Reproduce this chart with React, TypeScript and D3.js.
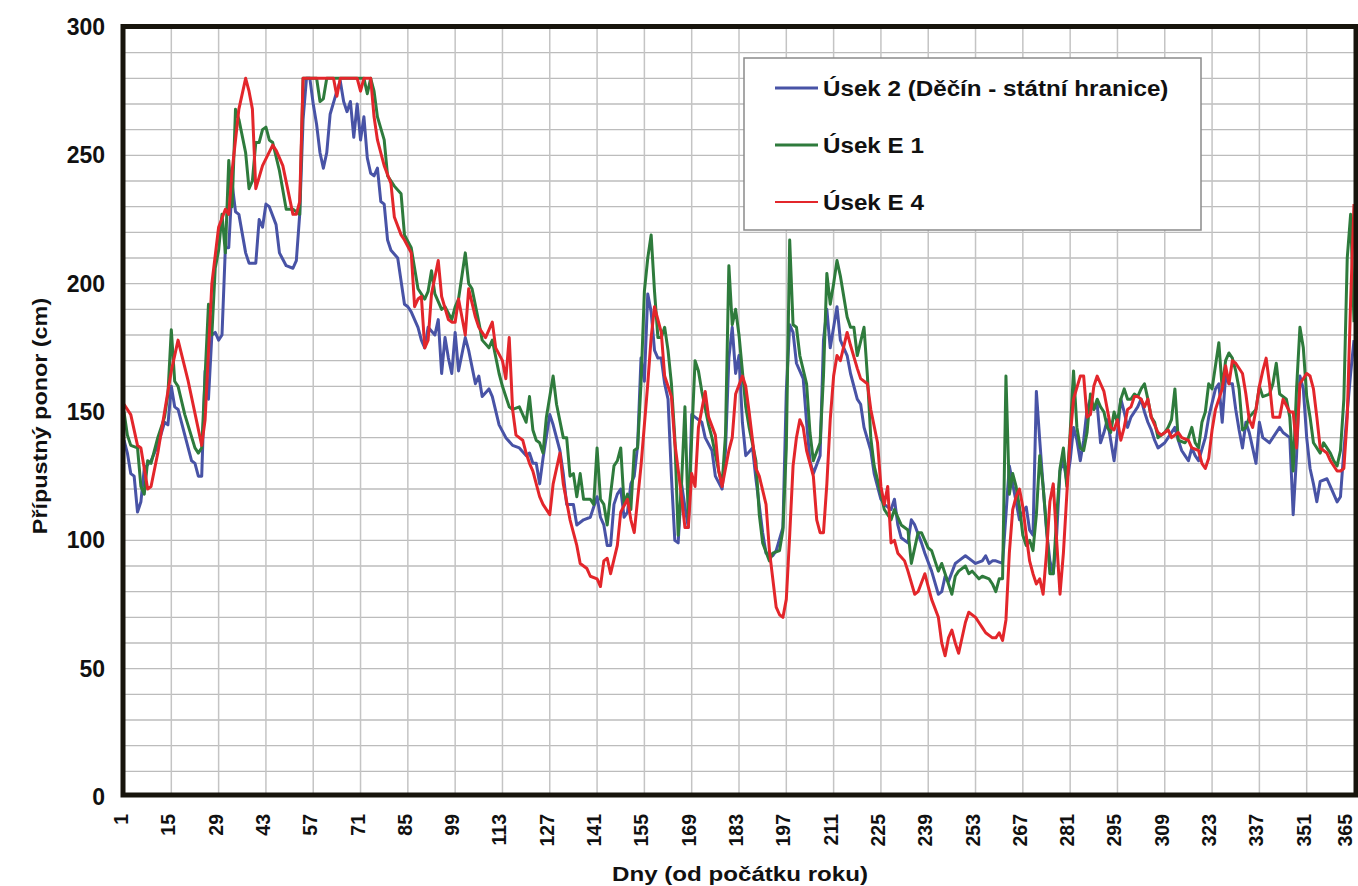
import * as d3 from "d3";

// tick labels
const xTickDays = [1, 15, 29, 43, 57, 71, 85, 99, 113, 127, 141, 155, 169, 183, 197, 211, 225, 239, 253, 267, 281, 295, 309, 323, 337, 351, 365];
const yTicks = [0, 50, 100, 150, 200, 250, 300];
const yGrid = [10, 20, 30, 40, 50, 60, 70, 80, 90, 100, 110, 120, 130, 140, 150, 160, 170, 180, 190, 200, 210, 220, 230, 240, 250, 260, 270, 280, 290];

const seriesNames = ["Úsek 2 (Děčín - státní hranice)", "Úsek E 1", "Úsek E 4"];
const seriesColors = ["#4853a6", "#2e7b3c", "#e3262b"];

// [day, cm]
const usek2: [number, number][] = [[1,139],[2,134],[3,126],[4,125],[5,111],[6,115],[7,128],[9,131],[11,137],[13,146],[14,145],[15,160],[16,152],[17,151],[21,131],[22,130],[23,125],[24,125],[25,166],[26,155],[27,180],[28,181],[29,178],[30,180],[31,214],[32,214],[33,239],[34,228],[35,227],[37,212],[38,208],[40,208],[41,225],[42,222],[43,231],[44,230],[46,223],[47,212],[49,207],[51,206],[52,209],[53,227],[54,264],[55,280],[56,280],[57,270],[58,262],[59,251],[60,245],[61,251],[62,266],[64,275],[65,279],[66,271],[67,267],[68,271],[69,257],[70,270],[71,256],[72,265],[73,249],[74,243],[75,242],[76,245],[77,232],[78,231],[79,217],[80,213],[82,210],[84,192],[85,191],[86,189],[88,183],[89,178],[90,175],[91,183],[93,180],[94,186],[95,165],[96,179],[97,171],[98,165],[99,181],[100,166],[102,179],[103,174],[105,161],[106,164],[107,156],[109,159],[110,156],[112,145],[114,140],[116,137],[118,136],[120,133],[121,134],[122,130],[123,130],[124,122],[125,132],[127,149],[128,145],[130,135],[131,126],[132,114],[134,114],[135,106],[137,108],[139,109],[141,117],[142,109],[143,106],[144,98],[145,98],[146,114],[147,118],[148,120],[149,109],[150,111],[151,122],[152,125],[153,137],[154,171],[155,162],[156,196],[157,189],[158,174],[159,171],[160,171],[161,161],[162,155],[163,125],[164,100],[165,99],[166,122],[167,113],[168,105],[169,149],[170,148],[172,146],[173,140],[175,135],[176,125],[178,120],[179,135],[180,171],[181,183],[182,165],[183,172],[184,146],[185,133],[187,136],[188,124],[190,103],[191,95],[193,94],[194,96],[196,105],[197,158],[198,184],[199,181],[200,169],[202,163],[203,146],[204,131],[205,126],[207,133],[208,178],[209,190],[210,175],[212,191],[213,178],[215,172],[216,165],[218,155],[219,153],[220,144],[222,135],[223,126],[225,116],[226,114],[228,112],[229,116],[230,106],[231,101],[233,99],[234,108],[235,106],[237,99],[238,95],[240,88],[242,79],[243,80],[244,86],[245,84],[247,91],[248,92],[250,94],[252,92],[253,91],[255,92],[256,94],[257,91],[258,92],[259,92],[261,91],[262,110],[263,129],[264,122],[265,115],[266,108],[267,111],[268,113],[269,104],[270,102],[271,158],[272,139],[273,121],[274,104],[275,92],[276,87],[277,102],[278,127],[279,131],[280,123],[281,131],[282,144],[283,139],[284,131],[285,139],[286,151],[287,155],[288,151],[289,153],[290,138],[291,142],[292,147],[293,139],[294,131],[295,142],[296,155],[297,150],[298,144],[299,148],[301,152],[302,155],[303,150],[304,146],[305,143],[306,139],[307,136],[309,138],[310,140],[312,144],[313,139],[314,135],[315,133],[316,131],[317,136],[318,133],[319,131],[321,140],[322,148],[324,159],[325,161],[326,146],[327,164],[328,161],[329,161],[330,151],[331,143],[332,136],[333,146],[334,142],[335,136],[336,130],[337,146],[338,140],[340,138],[341,140],[343,144],[344,142],[346,140],[347,110],[348,133],[349,164],[350,159],[351,140],[352,128],[353,122],[354,115],[355,123],[357,124],[358,121],[360,115],[361,117],[362,135],[363,150],[364,165],[365,178]];

const usekE1: [number, number][] = [[1,150],[2,141],[3,137],[5,136],[6,121],[7,118],[8,131],[9,130],[11,140],[13,148],[14,157],[15,182],[16,162],[17,160],[19,149],[22,136],[23,134],[24,136],[26,192],[27,180],[28,206],[29,213],[30,227],[31,212],[32,248],[33,230],[34,268],[35,264],[37,251],[38,237],[39,240],[40,255],[41,255],[42,260],[43,261],[44,256],[45,255],[47,244],[49,229],[51,229],[53,227],[54,280],[58,280],[59,271],[60,272],[61,280],[72,280],[73,274],[74,280],[75,275],[76,265],[78,256],[79,242],[81,238],[83,235],[84,219],[86,214],[87,206],[88,198],[90,194],[91,197],[92,205],[93,196],[95,190],[96,191],[98,186],[99,191],[100,194],[102,212],[103,200],[104,198],[106,185],[107,178],[109,175],[110,178],[112,165],[113,160],[115,152],[116,151],[118,152],[120,146],[121,156],[122,143],[123,139],[124,138],[125,134],[126,148],[128,164],[129,153],[131,140],[132,140],[133,125],[134,126],[135,117],[136,126],[137,116],[139,116],[140,114],[141,136],[142,116],[143,114],[144,106],[145,118],[146,129],[147,131],[148,136],[149,114],[150,118],[151,112],[152,135],[153,136],[154,161],[155,197],[156,210],[157,219],[158,197],[159,179],[160,179],[161,183],[162,174],[163,161],[164,140],[165,102],[166,122],[167,152],[168,108],[169,140],[170,170],[171,166],[172,158],[174,145],[175,140],[177,127],[178,122],[179,141],[180,207],[181,184],[182,190],[183,180],[185,152],[186,144],[188,131],[189,110],[190,99],[192,92],[193,95],[195,96],[196,104],[197,136],[198,217],[199,184],[200,183],[201,172],[203,161],[204,142],[205,131],[207,138],[208,164],[209,204],[210,192],[211,200],[212,209],[213,203],[215,187],[216,183],[217,183],[218,172],[220,183],[221,164],[222,140],[223,129],[225,118],[226,112],[228,108],[229,112],[231,106],[233,104],[234,91],[236,103],[237,103],[239,97],[240,96],[242,88],[243,91],[245,83],[246,79],[247,86],[248,88],[250,90],[251,87],[252,88],[254,85],[255,86],[257,85],[258,83],[259,80],[260,85],[261,85],[262,164],[263,118],[264,126],[265,121],[266,113],[267,102],[268,98],[269,100],[270,96],[271,110],[272,133],[273,121],[274,105],[275,87],[276,87],[277,109],[278,128],[279,136],[280,121],[281,142],[282,166],[283,144],[284,136],[285,135],[286,142],[287,157],[288,151],[289,155],[290,152],[291,150],[292,144],[293,142],[294,150],[295,146],[296,155],[297,159],[298,155],[299,155],[300,157],[301,156],[302,159],[303,161],[304,155],[305,148],[306,146],[307,140],[309,142],[310,144],[311,147],[312,159],[313,139],[315,138],[316,140],[317,144],[318,138],[319,136],[320,146],[321,150],[322,161],[323,159],[325,177],[326,159],[327,170],[328,173],[329,171],[330,166],[331,159],[332,143],[333,144],[334,148],[336,151],[337,160],[338,156],[340,157],[341,161],[342,169],[343,157],[345,155],[346,148],[347,127],[348,159],[349,183],[350,175],[351,156],[352,148],[353,138],[355,134],[356,138],[358,134],[359,131],[360,129],[361,135],[362,155],[363,210],[364,227],[365,185]];

const usekE4: [number, number][] = [[1,153],[3,149],[5,137],[6,136],[8,120],[9,121],[11,134],[15,166],[17,178],[20,162],[24,137],[25,147],[27,200],[29,222],[31,229],[32,227],[33,244],[35,268],[37,280],[38,275],[39,268],[40,237],[42,246],[45,254],[46,252],[48,246],[51,227],[52,227],[53,232],[54,280],[63,280],[64,273],[65,280],[70,280],[71,275],[72,280],[74,280],[75,265],[76,256],[77,251],[78,246],[80,239],[81,226],[83,219],[84,217],[86,212],[87,191],[88,194],[89,195],[90,175],[91,178],[92,196],[94,209],[95,195],[97,186],[98,185],[99,185],[100,194],[102,180],[103,198],[105,187],[106,183],[108,179],[110,185],[111,175],[113,170],[114,163],[115,179],[116,151],[117,141],[119,139],[120,134],[121,130],[122,127],[124,117],[125,114],[127,110],[128,122],[130,134],[131,122],[133,108],[135,98],[136,91],[138,89],[139,86],[141,85],[142,82],[143,92],[144,93],[145,87],[147,98],[148,111],[150,116],[151,108],[152,103],[154,129],[156,161],[157,179],[158,191],[160,181],[161,164],[163,156],[164,138],[166,117],[167,105],[168,105],[169,126],[170,121],[171,144],[173,158],[174,148],[176,141],[177,127],[178,121],[180,135],[181,140],[182,157],[184,164],[185,160],[186,150],[188,128],[189,125],[191,114],[192,96],[193,85],[194,74],[195,71],[196,70],[197,77],[198,102],[199,129],[200,140],[201,147],[202,144],[203,135],[205,125],[206,108],[207,103],[208,103],[209,122],[210,147],[211,164],[212,172],[213,170],[215,181],[216,176],[218,167],[219,163],[221,161],[222,151],[224,138],[225,121],[226,114],[227,121],[228,99],[229,100],[230,95],[232,92],[233,88],[235,79],[236,80],[238,87],[239,82],[240,77],[242,70],[243,60],[244,55],[245,62],[246,65],[247,60],[248,56],[250,68],[251,72],[253,70],[254,68],[255,66],[256,64],[258,62],[259,62],[260,64],[261,61],[262,69],[263,95],[264,112],[265,117],[266,120],[267,113],[268,102],[269,92],[270,87],[271,83],[272,85],[273,79],[274,95],[275,115],[276,122],[277,100],[278,79],[279,95],[281,140],[282,155],[284,164],[285,164],[286,148],[287,149],[288,160],[289,164],[290,161],[291,158],[292,151],[293,144],[294,143],[295,147],[296,139],[297,144],[298,151],[299,152],[300,156],[301,156],[302,155],[303,152],[304,155],[305,148],[307,142],[308,141],[310,143],[311,140],[313,142],[314,140],[316,139],[317,136],[319,135],[320,130],[321,128],[322,132],[323,143],[324,151],[326,159],[327,168],[328,161],[329,170],[330,169],[332,165],[333,157],[334,147],[335,144],[336,151],[337,160],[338,166],[339,171],[340,161],[341,148],[343,148],[344,155],[346,150],[347,150],[348,136],[349,161],[351,165],[352,164],[353,159],[354,148],[355,136],[357,134],[358,131],[360,127],[361,127],[362,128],[363,148],[364,193],[365,231]];

const allSeries = [usek2, usekE1, usekE4];

const W = 1358;
const H = 886;
const FONT = "'Liberation Sans', Arial, sans-serif";

export default function App() {
  const x = d3.scaleLinear().domain([1, 365]).range([124, 1354]);
  const y = d3.scaleLinear().domain([0, 300]).range([797, 27]);
  const line = d3
    .line<[number, number]>()
    .x((d) => x(d[0]))
    .y((d) => y(d[1]));

  const legendRows = [88, 145, 202];

  return (
    <div style={{ position: "absolute", left: 0, top: 0, width: W, height: H }}>
      <svg width={W} height={H} style={{ display: "block" }} fontFamily={FONT}>
        <rect x={0} y={0} width={W} height={H} fill="#ffffff" />

        {/* grid */}
        {yGrid.map((v) => (
          <line key={"gy" + v} x1={x(1)} x2={1356} y1={y(v)} y2={y(v)} stroke="#bcbcbc" strokeWidth={1.3} />
        ))}
        {xTickDays.slice(1, -1).map((d) => (
          <line key={"gx" + d} x1={x(d)} x2={x(d)} y1={795} y2={y(300)} stroke="#c4c4c4" strokeWidth={1.5} />
        ))}

        {/* series */}
        {allSeries.map((s, i) => (
          <path
            key={"s" + i}
            d={line(s) || ""}
            fill="none"
            stroke={seriesColors[i]}
            strokeWidth={3}
            strokeLinejoin="round"
          />
        ))}

        {/* frame */}
        <rect x={123} y={26.5} width={1356 - 123} height={795 - 26.5} fill="none" stroke="#17140c" strokeWidth={5} />

        {/* y ticks */}
        {yTicks.map((v) => (
          <text
            key={"yt" + v}
            x={105}
            y={y(v) + 8}
            textAnchor="end"
            fontSize={23}
            fontWeight="bold"
            fill="#111"
          >
            {v}
          </text>
        ))}

        {/* x ticks (last one pulled in so it stays on the page) */}
        {xTickDays.map((d) => (
          <text
            key={"xt" + d}
            transform={`translate(${Math.min(x(d) + 4, 1352)},814) rotate(-90)`}
            textAnchor="end"
            fontSize={19.5}
            fontWeight="bold"
            fill="#111"
          >
            {d}
          </text>
        ))}

        {/* axis titles */}
        <text
          transform={`translate(${(x(1) + x(365)) / 2 + 1},881) scale(1.15,1)`}
          textAnchor="middle"
          fontSize={21}
          fontWeight="bold"
          fill="#111"
        >
          Dny (od počátku roku)
        </text>
        <text
          transform={`translate(47,416) rotate(-90) scale(1.2,1)`}
          textAnchor="middle"
          fontSize={19.5}
          fontWeight="bold"
          fill="#111"
        >
          Přípustný ponor (cm)
        </text>

        {/* legend */}
        <rect x={744} y={58} width={457} height={172} fill="#ffffff" stroke="#8a8a8a" strokeWidth={1.5} />
        {seriesNames.map((name, i) => (
          <g key={"lg" + i}>
            <line
              x1={775}
              x2={818}
              y1={legendRows[i]}
              y2={legendRows[i]}
              stroke={seriesColors[i]}
              strokeWidth={i === 2 ? 2.2 : 3.2}
            />
            <text
              transform={`translate(823,${legendRows[i] + 8}) scale(1.1,1)`}
              fontSize={22}
              fontWeight="bold"
              fill="#111"
            >
              {name}
            </text>
          </g>
        ))}
      </svg>
    </div>
  );
}
